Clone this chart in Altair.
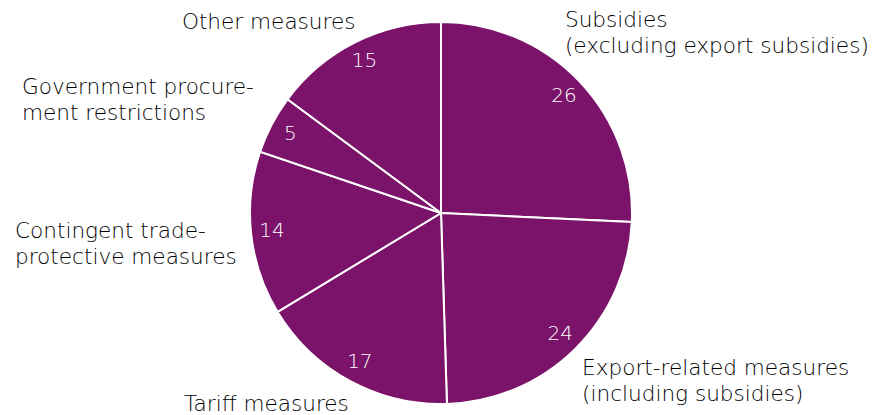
import altair as alt
import pandas as pd

# ---- data ----
labels = [
    "Subsidies\n(excluding export subsidies)",
    "Export-related measures\n(including subsidies)",
    "Tariff measures",
    "Contingent trade-\nprotective measures",
    "Government procure-\nment restrictions",
    "Other measures",
]
values = [26, 24, 17, 14, 5, 15]

df = pd.DataFrame({"label": labels, "value": values, "order": list(range(len(values)))})

# ---- style / layout ----
PURPLE = "#7a1369"
TEXT = "#000000"
FONT = "DejaVu Sans"
CX, CY = 433, 205          # pie centre in view coordinates
R = 191                    # pie radius
R_IN = 170                 # radius of value labels
R_OUT = 215                # anchor radius of category labels
# per-label nudges (dx, dy) from the anchor point at mid-angle
nudges = [(-31.6, -37.6), (-9.8, 8.8), (-154.4, 9.1), (-212.3, 1.8), (-228.5, -19.4), (-162.4, 7.6)]

base = alt.Chart(df)

pie = base.mark_arc(outerRadius=R, stroke="white", strokeWidth=2).encode(
    theta=alt.Theta("value:Q", stack=True),
    order=alt.Order("order:Q"),
    color=alt.value(PURPLE),
    x=alt.value(CX),
    y=alt.value(CY),
)

values_txt = base.mark_text(radius=R_IN, fontSize=20, font=FONT, fontWeight=200, color="white").encode(
    theta=alt.Theta("value:Q", stack=True),
    order=alt.Order("order:Q"),
    text=alt.Text("value:Q"),
    x=alt.value(CX),
    y=alt.value(CY),
)

anchored = (
    base.transform_window(cum="sum(value)", sort=[alt.SortField("order")], frame=[None, 0])
    .transform_joinaggregate(total="sum(value)")
    .transform_calculate(mid="(datum.cum - datum.value/2) / datum.total * 2 * PI")
    .transform_calculate(
        lx=f"{CX} + {R_OUT} * sin(datum.mid)",
        ly=f"{CY} - {R_OUT} * cos(datum.mid)",
    )
)

layers = [pie, values_txt]
for i, (dx, dy) in enumerate(nudges):
    layers.append(
        anchored.transform_filter(alt.datum.order == i)
        .mark_text(
            align="left", baseline="alphabetic", dx=dx, dy=dy, fontSize=21.6,
            font=FONT, fontWeight=200, color=TEXT, lineBreak="\n", lineHeight=26,
        )
        .encode(
            x=alt.X("lx:Q", scale=None, axis=None),
            y=alt.Y("ly:Q", scale=None, axis=None),
            text="label:N",
        )
    )

chart = (
    alt.layer(*layers)
    .properties(width=867, height=407, autosize="none", padding=0)
    .configure_view(stroke=None)
)

chart.save("out.html", embed_options={"renderer": "svg", "actions": False})
